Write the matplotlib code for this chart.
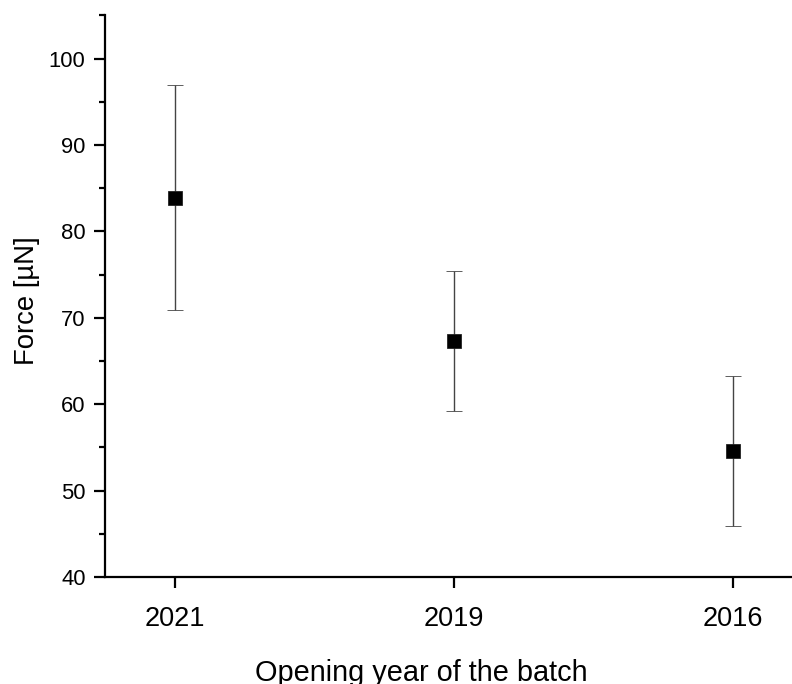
import matplotlib
matplotlib.use("Agg")
import matplotlib.pyplot as plt
from matplotlib.ticker import MultipleLocator

plt.rcParams['font.family'] = ['Liberation Sans', 'DejaVu Sans']

years = ["2021", "2019", "2016"]
force_mean = [83.9, 67.3, 54.6]
force_err = [13.0, 8.1, 8.7]

fig = plt.figure(figsize=(7.92, 6.84), dpi=100)
W, H = 792, 684
left_px, right_px, top_px, bottom_px = 105, 802.75, 15.5, 577
ax = fig.add_axes([left_px / W, (H - bottom_px) / H, (right_px - left_px) / W, (bottom_px - top_px) / H])

x = list(range(len(years)))
ax.errorbar(x, force_mean, yerr=force_err, fmt='s', color='black', markersize=9.6,
            markeredgecolor='#222222', markeredgewidth=0.6,
            ecolor='#444444', elinewidth=1.0, capsize=5.5, capthick=1.0, clip_on=False)

ax.set_xlim(-0.25, 2.25)
ax.set_ylim(40, 105)
ax.set_xticks(x)
ax.set_xticklabels(years)
ax.yaxis.set_major_locator(MultipleLocator(10))
ax.yaxis.set_minor_locator(MultipleLocator(5))
ax.set_yticks([40, 50, 60, 70, 80, 90, 100])

for s in ['top', 'right']:
    ax.spines[s].set_visible(False)
for s in ['left', 'bottom']:
    ax.spines[s].set_linewidth(1.6)

ax.tick_params(axis='both', which='major', direction='out', length=8, width=1.6)
ax.tick_params(axis='y', which='minor', direction='out', length=4, width=1.6)
ax.tick_params(axis='y', labelsize=15.8, pad=6)
ax.tick_params(axis='x', labelsize=19.5, pad=13)

ax.set_ylabel("Force [µN]", fontsize=19.8, va='center', ha='center')
ax.set_xlabel("Opening year of the batch", fontsize=20.8, va='baseline', ha='center')

# place labels in figure pixel coordinates
ax.yaxis.set_label_coords(27 / W, (H - 301) / H, transform=fig.transFigure)
ax.xaxis.set_label_coords(421 / W, (H - 681) / H, transform=fig.transFigure)

fig.savefig("out.png", dpi=100)
